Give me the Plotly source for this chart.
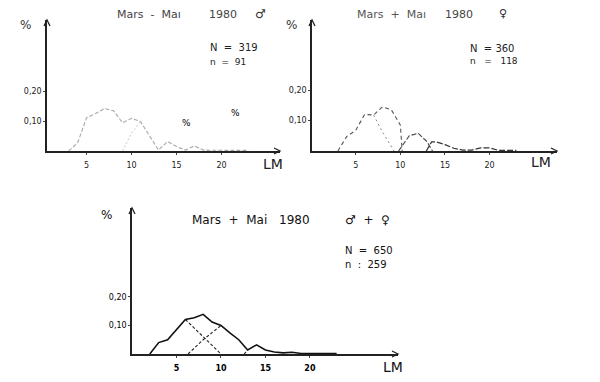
import plotly.graph_objects as go

W, H = 600, 382

# ---------------- data ----------------
# Top-left: males (Mars - Mai 1980, ♂), N=319, n=91
male_main_x = [3, 4, 5, 6, 7, 8, 9, 10, 11, 12, 13, 14, 15, 16, 17, 18, 19, 20, 21, 22, 23]
male_main_y = [0.0, 0.027, 0.111, 0.125, 0.142, 0.134, 0.094, 0.109, 0.098, 0.049, 0.003,
               0.032, 0.015, 0.003, 0.017, 0.003, 0.002, 0.002, 0.002, 0.002, 0.002]
male_comp_x = [9, 10, 11]
male_comp_y = [0.0, 0.06, 0.098]

# Top-right: females (Mars + Mai 1980, ♀), N=360, n=118
fem_a_x = [3, 4, 5, 6, 7, 8, 9, 10, 10.2]
fem_a_y = [0.0, 0.048, 0.068, 0.12, 0.118, 0.145, 0.135, 0.085, 0.0]
fem_b_x = [7, 8, 9.3]
fem_b_y = [0.118, 0.062, 0.0]
fem_c_x = [9.8, 11, 12, 13, 13.6]
fem_c_y = [0.0, 0.05, 0.058, 0.03, 0.0]
fem_d_x = [12.9, 13.5, 14, 15, 16, 17, 18, 19, 20, 21, 22, 23]
fem_d_y = [0.0, 0.03, 0.03, 0.021, 0.009, 0.003, 0.003, 0.01, 0.01, 0.002, 0.002, 0.002]

# Bottom: males + females, N=650, n=259
tot_x = [2, 3, 4, 5, 6, 7, 8, 9, 10, 11, 12, 13, 14, 15, 16, 17, 18, 19, 20, 21, 22, 23]
tot_y = [0.0, 0.040, 0.05, 0.085, 0.121, 0.127, 0.139, 0.112, 0.10, 0.074, 0.05, 0.014,
         0.032, 0.014, 0.007, 0.004, 0.006, 0.002, 0.002, 0.002, 0.002, 0.002]
comp1_x = [6, 8, 10]
comp1_y = [0.121, 0.06, 0.0]
comp2_x = [6.3, 8, 10]
comp2_y = [0.0, 0.05, 0.10]
comp3_x = [12.6, 13.0]
comp3_y = [0.0, 0.014]

x_ticks = [5, 10, 15, 20]
x_ticktext = ["5", "10", "15", "20"]
y_ticks = [0.10, 0.20]
y_ticktext = ["0,10", "0,20"]

# ---------------- layout helpers ----------------
def px(x):
    return x / W

def py(y):
    return 1 - y / H

fig = go.Figure()

# top-left traces
fig.add_trace(go.Scatter(x=male_main_x, y=male_main_y, mode="lines", xaxis="x", yaxis="y",
                         line=dict(color="#a8a8a8", width=1.1, dash="4px,2px")))
fig.add_trace(go.Scatter(x=male_comp_x, y=male_comp_y, mode="lines", xaxis="x", yaxis="y",
                         line=dict(color="#c8c8c8", width=1, dash="2px,2px")))
# top-right traces
fig.add_trace(go.Scatter(x=fem_a_x, y=fem_a_y, mode="lines", xaxis="x2", yaxis="y2",
                         line=dict(color="#555555", width=1.1, dash="4px,3px")))
fig.add_trace(go.Scatter(x=fem_b_x, y=fem_b_y, mode="lines", xaxis="x2", yaxis="y2",
                         line=dict(color="#888888", width=1, dash="2px,3px")))
fig.add_trace(go.Scatter(x=fem_c_x, y=fem_c_y, mode="lines", xaxis="x2", yaxis="y2",
                         line=dict(color="#444444", width=1.1, dash="5px,2px")))
fig.add_trace(go.Scatter(x=fem_d_x, y=fem_d_y, mode="lines", xaxis="x2", yaxis="y2",
                         line=dict(color="#333333", width=1.2, dash="6px,2px")))
# bottom traces
fig.add_trace(go.Scatter(x=tot_x, y=tot_y, mode="lines", xaxis="x3", yaxis="y3",
                         line=dict(color="#111111", width=1.6)))
fig.add_trace(go.Scatter(x=comp1_x, y=comp1_y, mode="lines", xaxis="x3", yaxis="y3",
                         line=dict(color="#222222", width=1.1, dash="3px,2px")))
fig.add_trace(go.Scatter(x=comp2_x, y=comp2_y, mode="lines", xaxis="x3", yaxis="y3",
                         line=dict(color="#222222", width=1.1, dash="3px,2px")))
fig.add_trace(go.Scatter(x=comp3_x, y=comp3_y, mode="lines", xaxis="x3", yaxis="y3",
                         line=dict(color="#222222", width=1.1, dash="3px,2px")))

font_fam = "DejaVu Sans"

def xaxis(dom, rng, anchor, size=8, color="#222", weight="normal"):
    return dict(domain=dom, range=rng, anchor=anchor, showgrid=False, zeroline=False,
                showline=True, linecolor="#222", linewidth=1.5,
                tickvals=x_ticks, ticktext=x_ticktext, ticks="outside", ticklen=2,
                tickcolor="#444", ticklabelstandoff=4,
                tickfont=dict(family=font_fam, size=size, color=color, weight=weight))

def yaxis(dom, rng, anchor, color="#222"):
    return dict(domain=dom, range=rng, anchor=anchor, showgrid=False, zeroline=False,
                showline=True, linecolor="#222", linewidth=1.5,
                tickvals=y_ticks, ticktext=y_ticktext, ticks="outside", ticklen=2,
                tickcolor="#444", ticklabelstandoff=0,
                tickfont=dict(family=font_fam, size=8, color=color))

# pixel geometry
TL = dict(x0=47, x1=280, yb=151, yt=20)
TR = dict(x0=312, x1=557, yb=151, yt=20)
BT = dict(x0=132, x1=398, yb=354, yt=208)

fig.update_layout(
    width=W, height=H, margin=dict(l=0, r=0, t=0, b=0),
    paper_bgcolor="white", plot_bgcolor="rgba(0,0,0,0)", showlegend=False,
    xaxis=xaxis([px(TL["x0"]), px(TL["x1"])], [0.6, 26.5], "y"),
    yaxis=yaxis([py(TL["yb"]), py(TL["yt"])], [0, 0.437], "x"),
    xaxis2=xaxis([px(TR["x0"]), px(TR["x1"])], [0.1, 27.55], "y2"),
    yaxis2=yaxis([py(TR["yb"]), py(TR["yt"])], [0, 0.43], "x2"),
    xaxis3=xaxis([px(BT["x0"]), px(BT["x1"])], [0, 29.9], "y3", size=8, color="#000", weight="bold"),
    yaxis3=yaxis([py(BT["yb"]), py(BT["yt"])], [0, 0.512], "x3", color="#000"),
)

# arrowheads (open chevrons) at axis ends
shapes = []
def chevron_up(xp, yp):
    return dict(type="path", xref="paper", yref="paper", line=dict(color="#222", width=1.3),
                path=f"M {px(xp-3)} {py(yp+6)} L {px(xp)} {py(yp)} L {px(xp+3)} {py(yp+6)}")
def chevron_right(xp, yp):
    return dict(type="path", xref="paper", yref="paper", line=dict(color="#222", width=1.3),
                path=f"M {px(xp-6)} {py(yp-3)} L {px(xp)} {py(yp)} L {px(xp-6)} {py(yp+3)}")
for g in (TL, TR, BT):
    shapes.append(chevron_up(g["x0"], g["yt"]))
    shapes.append(chevron_right(g["x1"], g["yb"]))
fig.update_layout(shapes=shapes)

def txt(x, y, s, size=10, color="#222", xanchor="center", weight="normal"):
    return dict(x=px(x), y=py(y), xref="paper", yref="paper", text=s, showarrow=False,
                xanchor=xanchor, yanchor="middle",
                font=dict(family=font_fam, size=size, color=color, weight=weight))

ann = [
    # top-left
    txt(115, 15, "Mars  -  Ma\u0131", 11, "#444", "left"),
    txt(207, 15, "1980", 11, "#444", "left"),
    txt(260, 14, "\u2642", 12, "#333"),
    txt(208, 47, "N  =  319", 10, "#222", "left"),
    txt(208, 62, "n  =  91", 9, "#222", "left"),
    txt(25, 25, "%", 12, "#333"),
    txt(273, 164, "LM", 14, "#222"),
    txt(186, 123, "%", 9, "#000"),
    txt(235, 113, "%", 9, "#000"),
    # top-right
    txt(355, 15, "Mars  +  Ma\u0131", 11, "#555", "left"),
    txt(443, 15, "1980", 11, "#444", "left"),
    txt(503, 14, "\u2640", 11, "#333"),
    txt(468, 48, "N  = 360", 10, "#222", "left"),
    txt(468, 61, "n   =   118", 9, "#222", "left"),
    txt(291, 25, "%", 12, "#333"),
    txt(541, 162, "LM", 14, "#222"),
    # bottom
    txt(190, 220, "Mars  +  Mai", 12, "#111", "left"),
    txt(277, 220, "1980", 12, "#111", "left"),
    txt(343, 220, "\u2642  +  \u2640", 12, "#111", "left"),
    txt(343, 250, "N  =  650", 10, "#111", "left"),
    txt(343, 264, "n  :  259", 10, "#111", "left"),
    txt(106, 215, "%", 12, "#111"),
    txt(393, 367, "LM", 14, "#111"),
]
fig.update_layout(annotations=ann)

fig.write_html("out.html", config={"displayModeBar": False},
               post_script="document.body.style.margin='0';document.body.style.padding='0';")
